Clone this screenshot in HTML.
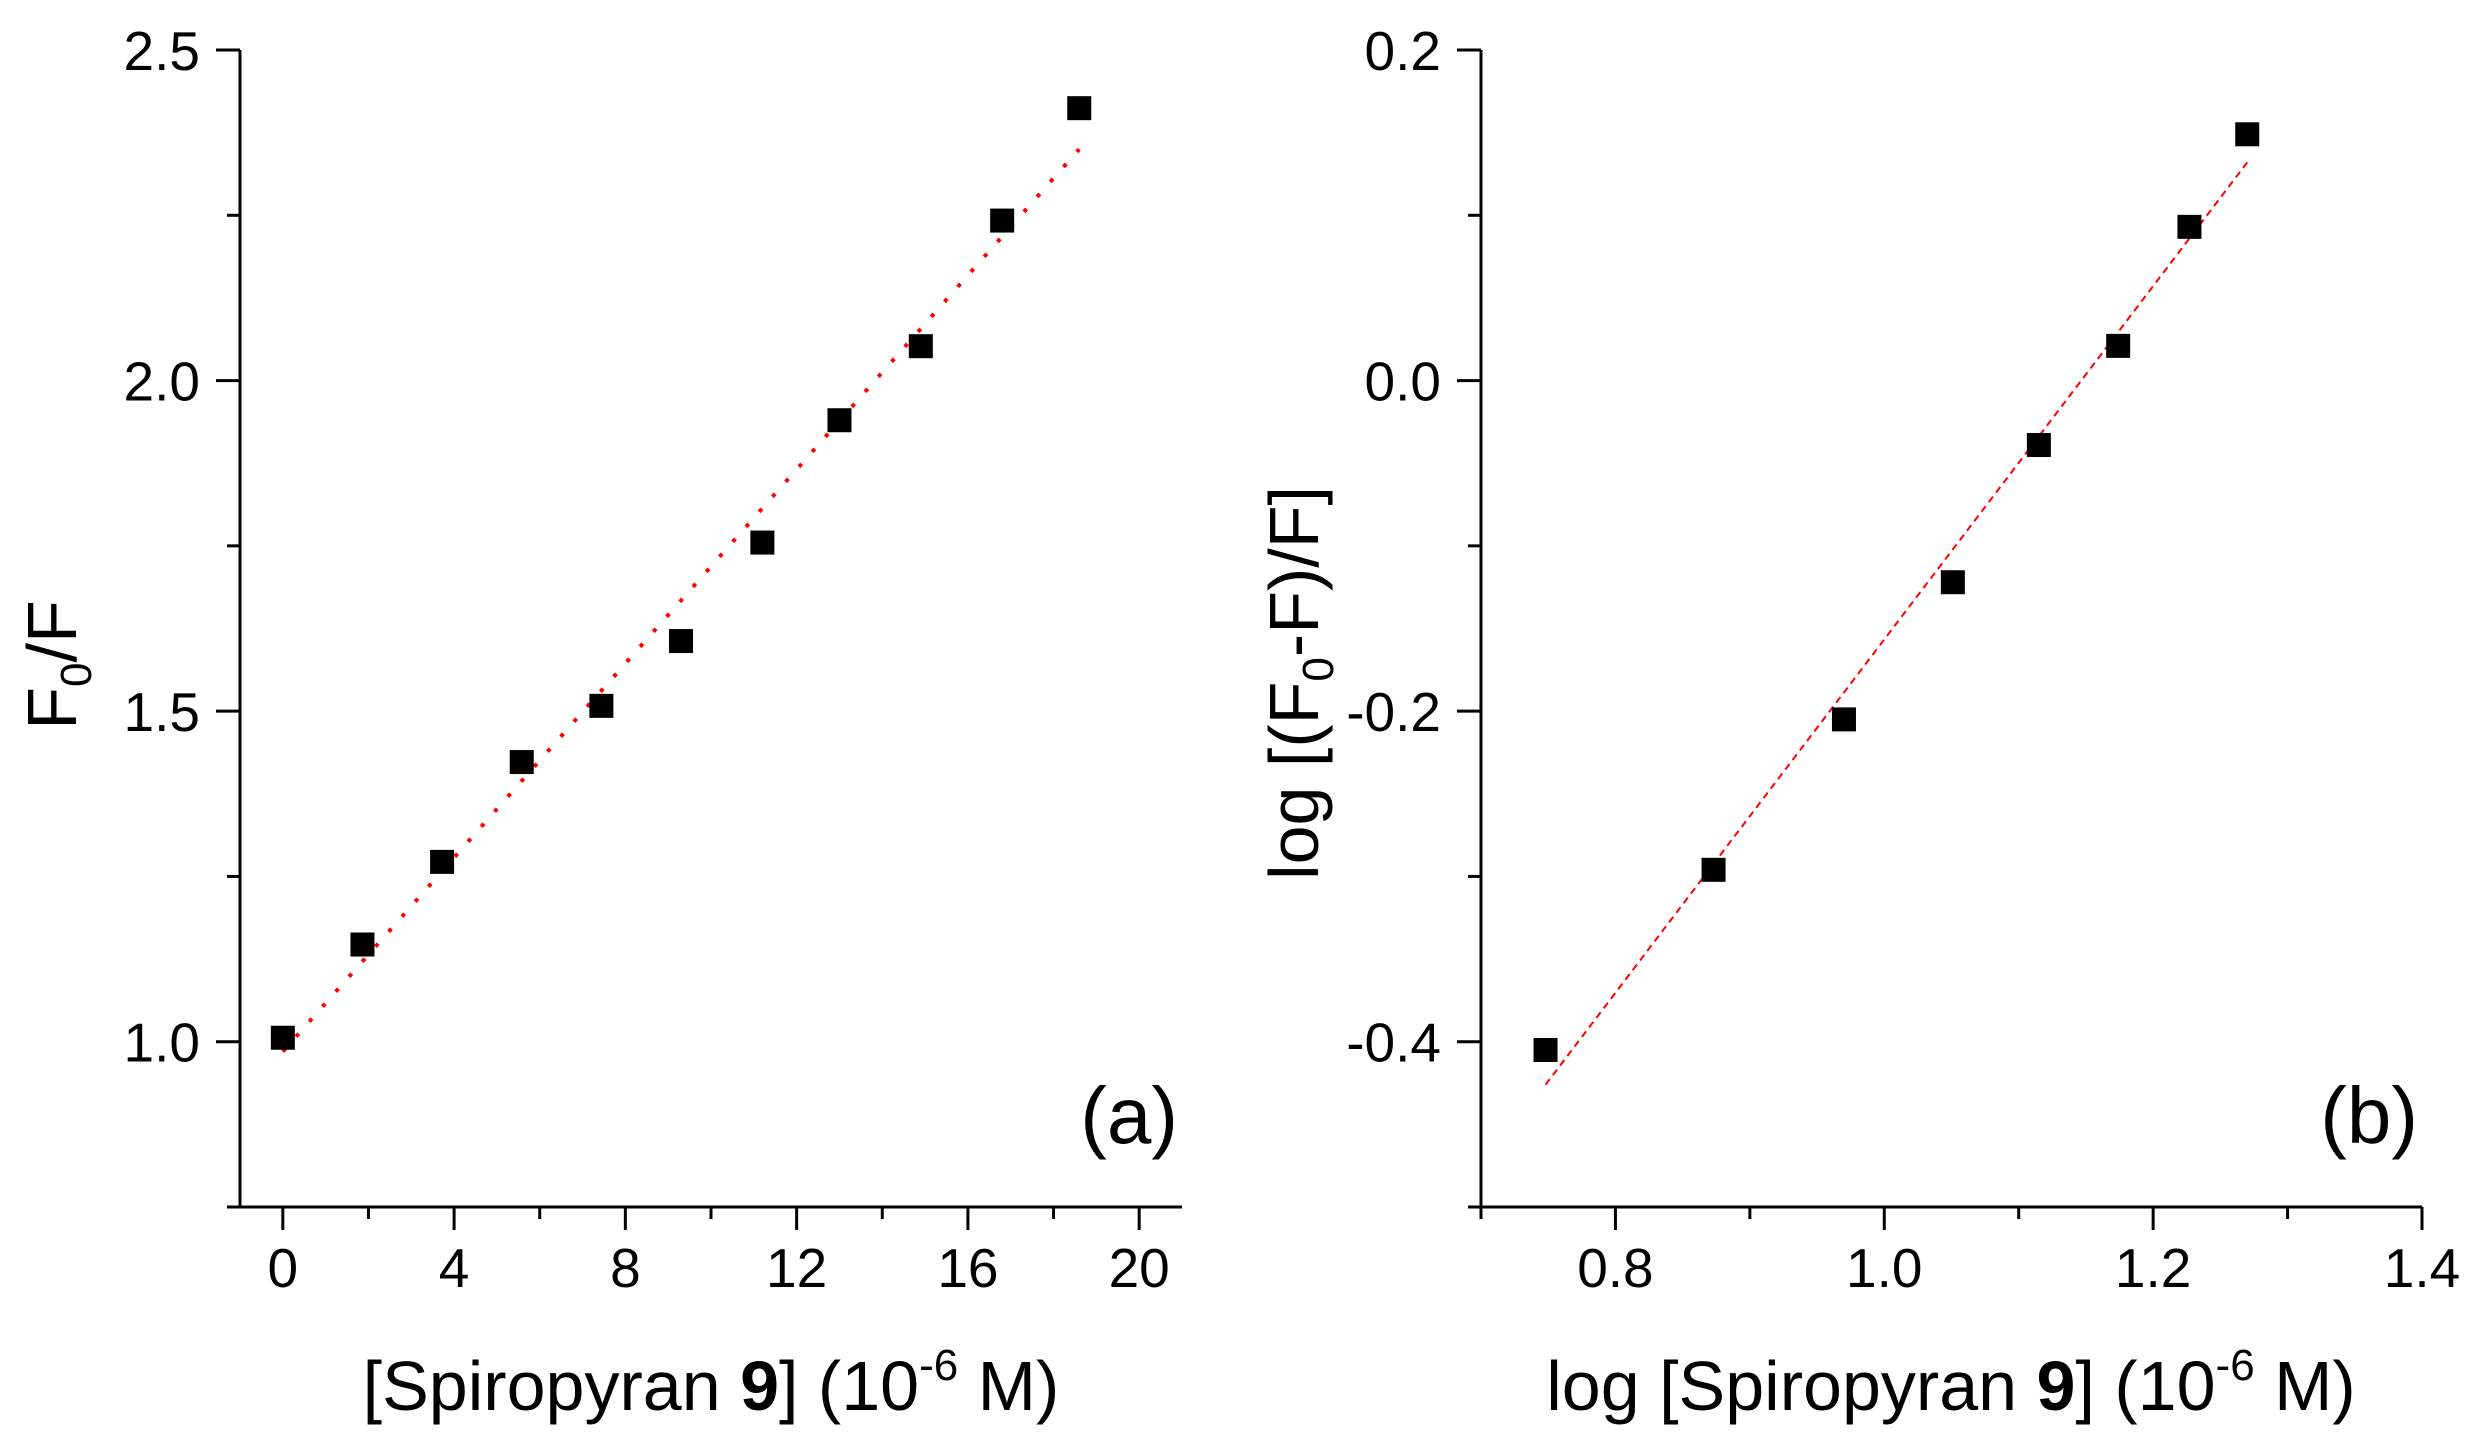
<!DOCTYPE html>
<html><head><meta charset="utf-8">
<style>
html,body{margin:0;padding:0;background:#fff;}
svg{display:block;font-family:"Liberation Sans",Arial,sans-serif;}
</style></head>
<body>
<svg id="fig" width="2477" height="1439" viewBox="0 0 2477 1439"></svg>
<script>
// Panel (a) data
const concA = [0, 1.86, 3.72, 5.58, 7.44, 9.3, 11.2, 13.0, 14.9, 16.8, 18.6];
const ratioA = [1.006, 1.147, 1.272, 1.423, 1.508, 1.606, 1.755, 1.940, 2.052, 2.242, 2.412];
const fitA = [[0, 0.985], [18.6, 2.35]];
const xTicksA = [0, 4, 8, 12, 16, 20];
const xMinorA = [2, 6, 10, 14, 18];
const yTicksA = ["1.0", "1.5", "2.0", "2.5"];
const yMinorA = [1.25, 1.75, 2.25, 0.75];
// Panel (b) data
const logConcB = [0.748, 0.873, 0.970, 1.051, 1.115, 1.174, 1.227, 1.270];
const logRatioB = [-0.405, -0.296, -0.205, -0.122, -0.039, 0.021, 0.093, 0.149];
const fitB = [[0.748, -0.426], [1.27, 0.132]];
const xTicksB = ["0.8", "1.0", "1.2", "1.4"];
const xMinorB = [0.7, 0.9, 1.1, 1.3];
const yTicksB = ["-0.4", "-0.2", "0.0", "0.2"];
const yMinorB = [-0.5, -0.3, -0.1, 0.1];

const NS = "http://www.w3.org/2000/svg";
const svg = document.getElementById("fig");
function mk(tag, attrs, parent) {
  const e = document.createElementNS(NS, tag);
  for (const k in attrs) e.setAttribute(k, attrs[k]);
  (parent || svg).appendChild(e);
  return e;
}

function panel(cfg) {
  const g = mk("g", {});
  
  
  const sx = v => cfg.x0 + (v - cfg.xmin) / (cfg.xmax - cfg.xmin) * (cfg.x1 - cfg.x0);
  const sy = v => cfg.yb - (v - cfg.ymin) / (cfg.ymax - cfg.ymin) * (cfg.yb - cfg.yt);
  const ya = mk("line", {x1: cfg.x0, y1: cfg.yt, x2: cfg.x0, y2: cfg.yb + 1.5, stroke: "#000", "stroke-width": 3}, g);
  
  
  const xa = mk("line", {x1: cfg.xaStart, y1: cfg.yb, x2: cfg.x1, y2: cfg.yb, stroke: "#000", "stroke-width": 3}, g);
  
  
  cfg.yTicks.forEach(t => {
    const y = sy(parseFloat(t));
    const l = mk("line", {x1: cfg.x0 - 24, y1: y, x2: cfg.x0, y2: y, stroke: "#000", "stroke-width": 3}, g);
    
    
    const tx = mk("text", {x: cfg.x0 - 40, y: y + 20, "text-anchor": "end", "font-size": 55}, g);
    tx.textContent = t;
    
    
  });
  cfg.yMinor.forEach(v => {
    const y = sy(v);
    const l = mk("line", {x1: cfg.x0 - 13, y1: y, x2: cfg.x0, y2: y, stroke: "#000", "stroke-width": 3}, g);
    
    
  });
  cfg.xTicks.forEach(t => {
    const x = sx(parseFloat(t));
    const l = mk("line", {x1: x, y1: cfg.yb, x2: x, y2: cfg.yb + 23, stroke: "#000", "stroke-width": 3}, g);
    
    
    const tx = mk("text", {x: x, y: 1287, "text-anchor": "middle", "font-size": 55}, g);
    tx.textContent = String(t);
    
    
  });
  cfg.xMinor.forEach(v => {
    const x = sx(v);
    const l = mk("line", {x1: x, y1: cfg.yb, x2: x, y2: cfg.yb + 12, stroke: "#000", "stroke-width": 3}, g);
    
    
  });
  const fl = mk("line", {x1: sx(cfg.fit[0][0]), y1: sy(cfg.fit[0][1]), x2: sx(cfg.fit[1][0]), y2: sy(cfg.fit[1][1]),
    stroke: "#f00", "stroke-width": cfg.fitW, "stroke-dasharray": cfg.dash}, g);
  
  
  cfg.xs.forEach((xv, i) => {
    const r = mk("rect", {x: sx(xv) - 12, y: sy(cfg.ys[i]) - 12, width: 24, height: 24, fill: "#000"}, g);
    
    
  });
  return g;
}

panel({name: "panel-a", x0: 240, x1: 1182, xaStart: 230, xmin: -1.0, xmax: 21.0, yt: 50, yb: 1207, ymin: 0.75, ymax: 2.5,
  xs: concA, ys: ratioA, fit: fitA, xTicks: xTicksA, xMinor: xMinorA, yTicks: yTicksA, yMinor: yMinorA,
  fitW: 4, dash: "4 16"});
panel({name: "panel-b", x0: 1481, x1: 2422, xaStart: 1468, xmin: 0.7, xmax: 1.4, yt: 50, yb: 1207, ymin: -0.5, ymax: 0.2,
  xs: logConcB, ys: logRatioB, fit: fitB, xTicks: xTicksB, xMinor: xMinorB, yTicks: yTicksB, yMinor: yMinorB,
  fitW: 2, dash: "7 5"});
</script>
<svg width="2477" height="1439" style="position:absolute;left:0;top:0;font-family:'Liberation Sans',Arial,sans-serif">
  <text x="711" y="1410" text-anchor="middle" font-size="70">[Spiropyran <tspan font-weight="bold">9</tspan>] (10<tspan dy="-30" font-size="44">-6</tspan><tspan dy="30"> M)</tspan></text>
  <text x="1951" y="1410" text-anchor="middle" font-size="70">log [Spiropyran <tspan font-weight="bold">9</tspan>] (10<tspan dy="-30" font-size="44">-6</tspan><tspan dy="30"> M)</tspan></text>
  <text transform="translate(76,665) rotate(-90)" text-anchor="middle" font-size="70">F<tspan dy="15" font-size="44">0</tspan><tspan dy="-15">/F</tspan></text>
  <text transform="translate(1318,683) rotate(-90)" text-anchor="middle" font-size="70">log [(F<tspan dy="15" font-size="44">0</tspan><tspan dy="-15">-F)/F]</tspan></text>
  <text x="1178" y="1143" text-anchor="end" font-size="80">(a)</text>
  <text x="2418" y="1143" text-anchor="end" font-size="80">(b)</text>
</svg>
</body></html>
